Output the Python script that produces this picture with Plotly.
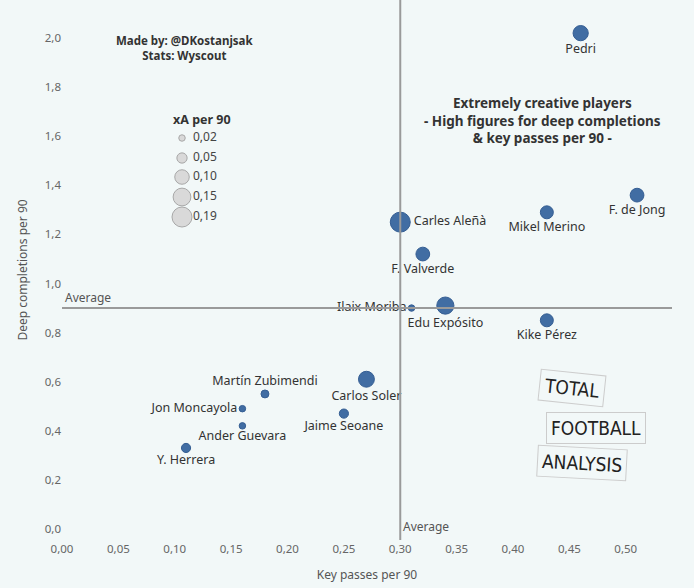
import plotly.graph_objects as go
import math

# ---- data ----
players = ["Pedri", "F. de Jong", "Mikel Merino", "Carles Aleñà", "F. Valverde",
           "Ilaix Moriba", "Edu Expósito", "Kike Pérez", "Carlos Soler",
           "Martín Zubimendi", "Jon Moncayola", "Ander Guevara", "Jaime Seoane", "Y. Herrera"]
key_passes = [0.46, 0.51, 0.43, 0.30, 0.32, 0.31, 0.34, 0.43, 0.27, 0.18, 0.16, 0.16, 0.25, 0.11]
deep_completions = [2.02, 1.36, 1.29, 1.25, 1.12, 0.90, 0.91, 0.85, 0.61, 0.55, 0.49, 0.42, 0.47, 0.33]
xa_per90 = [0.11, 0.09, 0.08, 0.19, 0.09, 0.02, 0.14, 0.08, 0.12, 0.03, 0.02, 0.02, 0.04, 0.04]
label_pos = ["bottom center", "bottom center", "bottom center", "middle right", "bottom center",
             "middle left", "bottom center", "bottom center", "bottom center",
             "top center", "middle left", "bottom center", "bottom center", "bottom center"]

avg_key_passes = 0.30
avg_deep = 0.90

legend_values = [0.02, 0.05, 0.10, 0.15, 0.19]
legend_labels = ["0,02", "0,05", "0,10", "0,15", "0,19"]

x_ticks = [0.00, 0.05, 0.10, 0.15, 0.20, 0.25, 0.30, 0.35, 0.40, 0.45, 0.50]
y_ticks = [0.0, 0.2, 0.4, 0.6, 0.8, 1.0, 1.2, 1.4, 1.6, 1.8, 2.0]

MAX_D = 20
def diam(v):
    return MAX_D * math.sqrt(v / max(legend_values))

BG = "#F2F8F8"
FONT = "Noto Sans"
TXT = "#333333"
LOGO_FONT = "Liberation Sans Narrow, DejaVu Sans Condensed"

fig = go.Figure()

fig.add_trace(go.Scatter(
    x=key_passes, y=deep_completions, mode="markers+text",
    text=players, textposition=label_pos,
    textfont=dict(family=FONT, size=12.5, color=TXT),
    marker=dict(size=[diam(v) for v in xa_per90], color="#416DA3", opacity=1,
                line=dict(color="#355E93", width=1)),
    hoverinfo="text", showlegend=False, cliponaxis=False))

# size legend on an overlay pixel-like axis
leg_y = [138, 158, 177, 197, 217]
fig.add_trace(go.Scatter(
    x=[182] * len(legend_values), y=leg_y, mode="markers",
    marker=dict(size=[diam(v) for v in legend_values], color="#D9D9D9", opacity=1,
                line=dict(color="#A8A8A8", width=1)),
    xaxis="x2", yaxis="y2", showlegend=False, hoverinfo="skip"))
fig.add_trace(go.Scatter(
    x=[193] * len(legend_values), y=leg_y, mode="text",
    text=legend_labels, textposition="middle right",
    textfont=dict(family=FONT, size=12, color="#444444"),
    xaxis="x2", yaxis="y2", showlegend=False, hoverinfo="skip"))

# average lines
fig.add_shape(type="line", xref="x", yref="paper", x0=avg_key_passes, x1=avg_key_passes,
              y0=0, y1=1, line=dict(color="#9A9A9A", width=2))
fig.add_shape(type="line", xref="paper", yref="y", x0=0, x1=1, y0=avg_deep, y1=avg_deep,
              line=dict(color="#9A9A9A", width=2))

annotations = [
    dict(xref="paper", yref="y", x=0.002, y=avg_deep, text="Average", showarrow=False,
         xanchor="left", yanchor="bottom", font=dict(family=FONT, size=12, color="#555555")),
    dict(xref="x", yref="paper", x=avg_key_passes, y=0.005, text="Average", showarrow=False,
         xanchor="left", yanchor="bottom", xshift=1, font=dict(family=FONT, size=12, color="#555555")),
    dict(xref="x2", yref="y2", x=184, y=48, text="<b>Made by: @DKostanjsak<br>Stats: Wyscout</b>",
         showarrow=False, xanchor="center", yanchor="middle", align="center",
         font=dict(family=FONT, size=11.5, color=TXT)),
    dict(xref="x2", yref="y2", x=202, y=119, text="<b>xA per 90</b>", showarrow=False,
         xanchor="center", yanchor="middle", font=dict(family=FONT, size=12.5, color=TXT)),
    dict(xref="x2", yref="y2", x=542, y=120,
         text="<b>Extremely creative players<br>- High figures for deep completions<br>&amp; key passes per 90 -</b>",
         showarrow=False, xanchor="center", yanchor="middle", align="center",
         font=dict(family=FONT, size=13.5, color=TXT)),
    # logo approximation
    dict(xref="x2", yref="y2", x=572, y=388, text="TOTAL", showarrow=False, textangle=6,
         font=dict(family=LOGO_FONT, size=19, color="#222222"),
         bordercolor="#CCCCCC", borderwidth=1, borderpad=4),
    dict(xref="x2", yref="y2", x=596, y=428, text="FOOTBALL", showarrow=False,
         font=dict(family=LOGO_FONT, size=19, color="#222222"),
         bordercolor="#CCCCCC", borderwidth=1, borderpad=4),
    dict(xref="x2", yref="y2", x=582, y=463, text="ANALYSIS", showarrow=False, textangle=3,
         font=dict(family=LOGO_FONT, size=19, color="#222222"),
         bordercolor="#CCCCCC", borderwidth=1, borderpad=4),
]

fig.update_layout(
    width=694, height=588,
    margin=dict(l=62, r=22, t=0, b=48),
    paper_bgcolor=BG, plot_bgcolor=BG,
    separators=", ",
    font=dict(family=FONT, size=11, color="#555555"),
    annotations=annotations,
    xaxis=dict(range=[0, 0.541], tickvals=x_ticks, tickformat=".2f", showgrid=False,
               zeroline=False, showline=False, ticks="",
               tickfont=dict(family=FONT, size=11.5, color="#666666"),
               title=dict(text="Key passes per 90", standoff=16,
                          font=dict(family=FONT, size=12, color="#555555"))),
    yaxis=dict(range=[-0.045, 2.155], tickvals=y_ticks, tickformat=".1f", showgrid=False,
               zeroline=False, showline=False, ticks="",
               tickfont=dict(family=FONT, size=11.5, color="#666666"),
               title=dict(text="Deep completions per 90", standoff=14,
                          font=dict(family=FONT, size=12, color="#555555"))),
    xaxis2=dict(range=[62, 672], overlaying="x", visible=False, fixedrange=True),
    yaxis2=dict(range=[540, 0], overlaying="y", visible=False, fixedrange=True),
)

fig.write_html("out.html", config={"displayModeBar": False},
               post_script="document.body.style.margin='0';document.body.style.background='%s';" % BG)
